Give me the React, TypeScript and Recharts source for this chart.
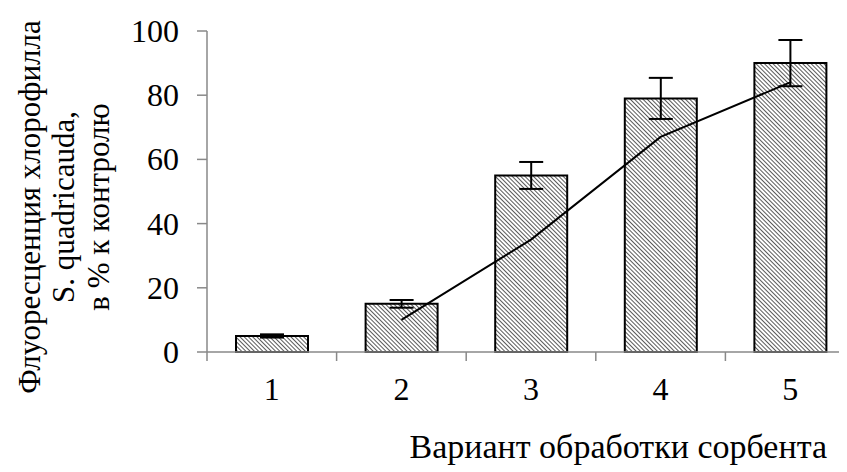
import { ComposedChart, Bar, Line, XAxis, YAxis, ErrorBar, Label } from 'recharts'

const categories = [1, 2, 3, 4, 5]
const barValues = [5, 15, 55, 79, 90]
const errValues = [0.5, 1.2, 4.2, 6.4, 7.2]
const lineValues: (number | null)[] = [null, 10, 35, 67, 84]
const yTicks = [0, 20, 40, 60, 80, 100]
const xBoundaries = [0.5, 1.5, 2.5, 3.5, 4.5, 5.5]

const data = categories.map((c, i) => ({
  x: c,
  value: barValues[i],
  err: errValues[i],
  trend: lineValues[i],
}))

const FONT = 'Liberation Serif, Times New Roman, DejaVu Serif, serif'
const AXIS = '#898989'
const textStyle = { fontFamily: FONT, fontSize: 32, fill: '#000' }

function XTick(props: any) {
  const { x, y, payload } = props
  if (Number.isInteger(payload.value)) {
    return (
      <text x={x} y={y + 48} textAnchor="middle" style={textStyle}>
        {payload.value}
      </text>
    )
  }
  return <line x1={x} x2={x} y1={y} y2={y + 9} stroke={AXIS} strokeWidth={1.5} />
}

function YTick(props: any) {
  const { x, y, payload } = props
  return (
    <text x={x} y={y + 11} textAnchor="end" style={textStyle}>
      {payload.value}
    </text>
  )
}

function YTitle() {
  const cy = 199
  const lines = ['Флуоресценция хлорофилла', 'S. quadricauda,', 'в % к контролю']
  const xs = [32, 66, 101]
  return (
    <g>
      {lines.map((t, i) => (
        <text
          key={i}
          x={xs[i]}
          y={cy}
          transform={`rotate(-90, ${xs[i]}, ${cy})`}
          textAnchor="middle"
          style={{ ...textStyle, fontSize: 31 }}
        >
          {t}
        </text>
      ))}
    </g>
  )
}

function XTitle(props: any) {
  const { viewBox } = props
  return (
    <text x={819} y={viewBox.y + 106} textAnchor="end" style={{ ...textStyle, fontSize: 34 }}>
      Вариант обработки сорбента
    </text>
  )
}

export default function App() {
  return (
    <div style={{ width: 839, height: 464, overflow: 'hidden' }}>
      <ComposedChart
        width={851}
        height={464}
        data={data}
        margin={{ top: 23, right: 4, bottom: 0, left: 0 }}
      >
        <defs>
          <pattern
            id="hatch"
            patternUnits="userSpaceOnUse"
            width={3}
            height={3}
            patternTransform="rotate(-45)"
          >
            <rect width={3} height={3} fill="#fff" />
            <line x1={0} y1={0} x2={0} y2={3} stroke="#000" strokeWidth={1.3} />
          </pattern>
        </defs>
        <XAxis
          dataKey="x"
          type="number"
          domain={[0.5, 5.5]}
          ticks={[...xBoundaries, ...categories]}
          interval={0}
          tick={<XTick />}
          tickLine={false}
          tickSize={0}
          tickMargin={0}
          height={120}
          axisLine={{ stroke: AXIS, strokeWidth: 1.5 }}
        >
          <Label content={<XTitle />} />
        </XAxis>
        <YAxis
          domain={[0, 100]}
          ticks={yTicks}
          width={199}
          tickSize={10}
          tickMargin={18}
          tickLine={{ stroke: AXIS, strokeWidth: 1.5 }}
          axisLine={{ stroke: AXIS, strokeWidth: 1.5 }}
          tick={<YTick />}
        >
          <Label content={<YTitle />} />
        </YAxis>
        <Bar
          dataKey="value"
          barSize={72}
          fill="url(#hatch)"
          stroke="#000"
          strokeWidth={2}
          isAnimationActive={false}
        >
          <ErrorBar dataKey="err" width={12} stroke="#000" strokeWidth={2} direction="y" />
        </Bar>
        <Line
          dataKey="trend"
          stroke="#000"
          strokeWidth={2}
          dot={false}
          isAnimationActive={false}
        />
      </ComposedChart>
    </div>
  )
}
